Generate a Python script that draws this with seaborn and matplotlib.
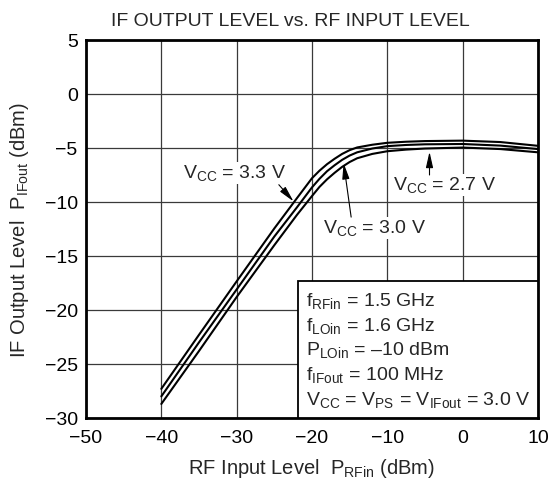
import numpy as np
import pandas as pd
import matplotlib
matplotlib.use("Agg")
import matplotlib.pyplot as plt
import seaborn as sns
from matplotlib.patches import Rectangle

# RF input level (dBm) and IF output level (dBm)
rf_in = [-40, -35, -30, -25, -22, -20, -19, -18, -17, -16, -15, -14, -12, -10, -7.5, -5, 0, 5, 10]
if_out_33 = [-27.3, -22.3, -17.35, -12.45, -9.65, -7.8, -7.1, -6.5, -6.0, -5.55, -5.2, -4.95,
             -4.7, -4.52, -4.42, -4.36, -4.32, -4.45, -4.8]
if_out_30 = [-28.0, -23.0, -18.1, -13.2, -10.5, -8.65, -7.85, -7.15, -6.6, -6.1, -5.7, -5.4,
             -5.05, -4.83, -4.72, -4.66, -4.63, -4.78, -5.1]
if_out_27 = [-28.7, -23.8, -18.8, -14.0, -11.2, -9.45, -8.6, -7.9, -7.3, -6.75, -6.3, -5.95,
             -5.55, -5.3, -5.15, -5.05, -4.96, -5.1, -5.4]
vcc_labels = ["3.3", "3.0", "2.7"]

x_ticks = [-50, -40, -30, -20, -10, 0, 10]
y_ticks = [-30, -25, -20, -15, -10, -5, 0, 5]

conditions = [
    r"f$_{\mathregular{RFin}}$ = 1.5 GHz",
    r"f$_{\mathregular{LOin}}$ = 1.6 GHz",
    r"P$_{\mathregular{LOin}}$ = –10 dBm",
    r"f$_{\mathregular{IFout}}$ = 100 MHz",
    r"V$_{\mathregular{CC}}$ = V$_{\mathregular{PS}}$ = V$_{\mathregular{IFout}}$ = 3.0 V",
]

df = pd.DataFrame({
    "rf": rf_in * 3,
    "if": if_out_33 + if_out_30 + if_out_27,
    "vcc": [v for v in vcc_labels for _ in rf_in],
})

sns.set_theme(style="white")
plt.rcParams["font.family"] = ["Liberation Sans", "DejaVu Sans"]
plt.rcParams["mathtext.fontset"] = "custom"
plt.rcParams["mathtext.rm"] = "Liberation Sans"
FS = 14

fig = plt.figure(figsize=(5.59, 4.85), dpi=100)
ax = fig.add_axes([0.1538, 0.1361, 0.8086, 0.7794])

sns.lineplot(data=df, x="rf", y="if", units="vcc", estimator=None, color="black",
             linewidth=1.5, ax=ax, zorder=3)

ax.set_xlim(-50, 10)
ax.set_ylim(-30, 5)
ax.set_xticks(x_ticks)
ax.set_yticks(y_ticks)
ax.grid(True, color="#3a3a3a", linewidth=0.9)
ax.tick_params(length=0, labelsize=FS, colors="black")
ax.tick_params(axis="x", pad=8)
ax.tick_params(axis="y", pad=6)
for s in ax.spines.values():
    s.set_visible(True)
    s.set_color("black")
    s.set_linewidth(2.0)

ax.set_xlabel(r"RF Input Level  P$_{\mathregular{RFin}}$ (dBm)", fontsize=14.5, labelpad=7)
ax.set_ylabel(r"IF Output Level  P$_{\mathregular{IFout}}$ (dBm)", fontsize=14.5, labelpad=10)
fig.text(0.52, 0.955, "IF OUTPUT LEVEL vs. RF INPUT LEVEL", ha="center", va="center", fontsize=FS)

# curve labels with arrows
arrow = dict(arrowstyle="-|>,head_length=0.8,head_width=0.18", color="black", lw=0.8,
             shrinkA=0, shrinkB=0)
ax.text(-30.3, -7.3, r"V$_{\mathregular{CC}}$ = 3.3 V", ha="center", va="center", fontsize=FS,
        bbox=dict(fc="white", ec="none", pad=0.5))
ax.annotate("", xy=(-22.45, -9.95), xytext=(-24.4, -8.4), arrowprops=arrow, zorder=4)
ax.text(-11.7, -12.4, r"V$_{\mathregular{CC}}$ = 3.0 V", ha="center", va="center", fontsize=FS,
        bbox=dict(fc="white", ec="none", pad=0.5))
ax.annotate("", xy=(-15.8, -6.4), xytext=(-14.8, -11.4), arrowprops=arrow, zorder=4)
ax.text(-2.4, -8.4, r"V$_{\mathregular{CC}}$ = 2.7 V", ha="center", va="center", fontsize=FS,
        bbox=dict(fc="white", ec="none", pad=0.5))
ax.annotate("", xy=(-4.4, -5.35), xytext=(-4.4, -7.5), arrowprops=arrow, zorder=4)

# conditions box
ax.add_patch(Rectangle((0.469, 0.0), 0.531, 0.362, transform=ax.transAxes, facecolor="white",
                       edgecolor="black", linewidth=1.3, zorder=5))
for i, line in enumerate(conditions):
    ax.text(0.487, 0.31 - i * 0.0655, line, transform=ax.transAxes, ha="left", va="center",
            fontsize=FS, zorder=6)

fig.savefig("out.png", dpi=100)
